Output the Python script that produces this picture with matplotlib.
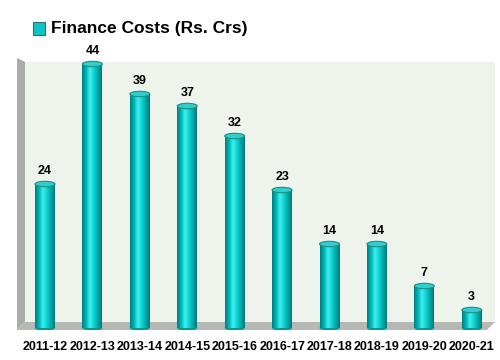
import matplotlib.pyplot as plt
import numpy as np
from matplotlib.patches import Ellipse, Rectangle, Polygon
from matplotlib.colors import LinearSegmentedColormap

years = ["2011-12", "2012-13", "2013-14", "2014-15", "2015-16",
         "2016-17", "2017-18", "2018-19", "2019-20", "2020-21"]
costs = [24, 44, 39, 37, 32, 23, 14, 14, 7, 3]

title = "Finance Costs (Rs. Crs)"

W, H = 500, 360
plt.rcParams["font.family"] = ["Liberation Sans", "DejaVu Sans"]
fig = plt.figure(figsize=(5, 3.6), dpi=100)
fig.patch.set_facecolor("white")

def fx(px):
    return px / W

def fy(py):
    return 1 - py / H

ax = fig.add_axes([fx(17), fy(330), fx(495) - fx(17), fy(58) - fy(330)])
ax.set_facecolor("none")
for s in ax.spines.values():
    s.set_visible(False)

# back wall, left wall and floor (figure pixels)
tf = fig.transFigure
ax.add_patch(Polygon([(fx(25), fy(62)), (fx(495), fy(62)), (fx(495), fy(322)), (fx(25), fy(322))],
                     transform=tf, facecolor="#eef3ec", edgecolor="none", zorder=0))
ax.add_patch(Polygon([(fx(17), fy(58)), (fx(25), fy(62)), (fx(25), fy(322)), (fx(17), fy(330))],
                     transform=tf, facecolor="#a9aca9", edgecolor="none", zorder=0))
ax.add_patch(Polygon([(fx(25), fy(322)), (fx(495), fy(322)), (fx(487), fy(330)), (fx(17), fy(330))],
                     transform=tf, facecolor="#b5b8b5", edgecolor="none", zorder=0))

ax.set_ylim(-0.33, 45.0)
ax.set_xlim(-0.59, 9.49)
ax.set_yticks([])
x = np.arange(len(years))
ax.set_xticks(x)
ax.set_xticklabels(years, fontsize=9, fontweight="bold")
ax.tick_params(axis="x", length=0, pad=8)

cmap = LinearSegmentedColormap.from_list(
    "cyl", ["#007f7f", "#00b4b4", "#3ff0f0", "#10d2d2", "#00a8a8", "#007a7a"])
grad = np.linspace(0, 1, 64).reshape(1, -1)
bw = 0.42
cap = 0.9

for xi, v in zip(x, costs):
    rect = Rectangle((xi - bw / 2, 0), bw, v, facecolor="none", edgecolor="none")
    ax.add_patch(rect)
    im = ax.imshow(grad, cmap=cmap, aspect="auto",
                   extent=(xi - bw / 2, xi + bw / 2, 0, v), zorder=2)
    im.set_clip_path(rect)
    ax.add_patch(Ellipse((xi, 0), bw, cap, facecolor="#009a9a", edgecolor="none", zorder=1.9))
    ax.add_patch(Ellipse((xi, v), bw, cap, facecolor="#2fcfcf", edgecolor="#1e8f7f", lw=0.8,
                         zorder=3))
    ax.annotate(str(v), (xi, v), xytext=(0, 5), textcoords="offset points",
                ha="center", va="bottom", fontsize=9, fontweight="bold",
                annotation_clip=False)

# title with legend square
fig.patches.append(Rectangle((fx(33), fy(35)), fx(12), fy(22) - fy(35), transform=tf,
                             facecolor="#10c4c4", edgecolor="#2f6f6f", lw=0.8))
fig.text(fx(51), fy(29), title, fontsize=12.5, fontweight="bold", va="center", ha="left")

fig.savefig("out.png", dpi=100)
